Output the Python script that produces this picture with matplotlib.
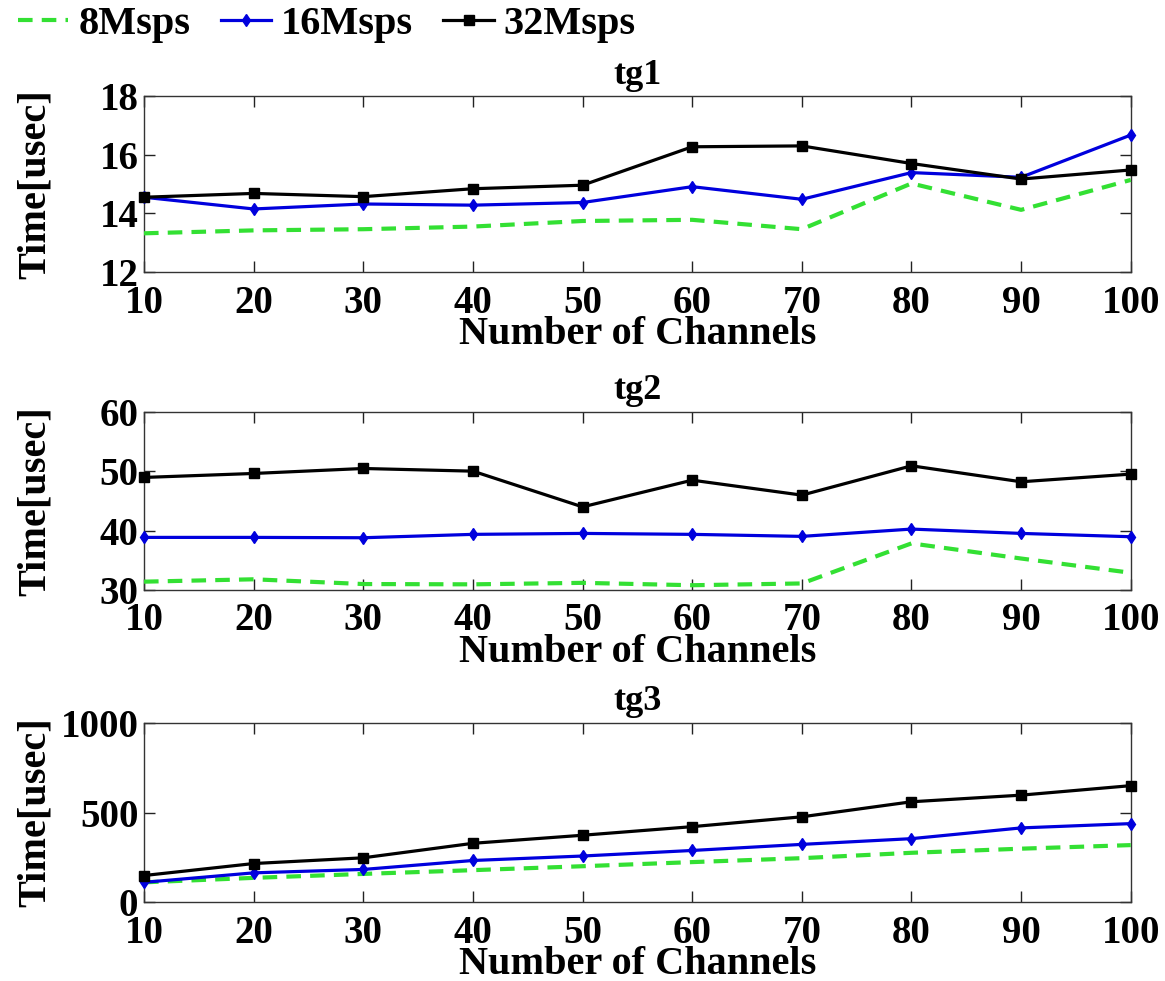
import numpy as np
import matplotlib.pyplot as plt

channels = [10, 20, 30, 40, 50, 60, 70, 80, 90, 100]

# tg1
tg1_8 = [13.32, 13.42, 13.46, 13.55, 13.74, 13.78, 13.46, 15.02, 14.12, 15.14]
tg1_16 = [14.55, 14.15, 14.32, 14.28, 14.37, 14.91, 14.48, 15.39, 15.23, 16.67]
tg1_32 = [14.55, 14.68, 14.57, 14.84, 14.96, 16.27, 16.30, 15.70, 15.17, 15.48]

# tg2
tg2_8 = [31.4, 31.8, 31.0, 30.95, 31.2, 30.8, 31.1, 37.85, 35.3, 32.9]
tg2_16 = [38.86, 38.86, 38.8, 39.37, 39.53, 39.37, 39.03, 40.26, 39.53, 38.97]
tg2_32 = [48.96, 49.63, 50.47, 50.02, 44.0, 48.5, 45.98, 50.92, 48.23, 49.52]

# tg3
tg3_8 = [110, 135, 157, 178, 200, 223, 245, 275, 298, 318]
tg3_16 = [110, 163, 182, 232, 257, 288, 322, 354, 414, 438]
tg3_32 = [148, 215, 247, 328, 373, 421, 476, 560, 597, 650]

titles = ["tg1", "tg2", "tg3"]
ylims = [(12, 18), (30, 60), (0, 1000)]
yticks = [[12, 14, 16, 18], [30, 40, 50, 60], [0, 500, 1000]]
series = [(tg1_8, tg1_16, tg1_32), (tg2_8, tg2_16, tg2_32), (tg3_8, tg3_16, tg3_32)]

plt.rcParams['font.family'] = ['Liberation Serif', 'DejaVu Serif']
plt.rcParams['font.weight'] = 'bold'

fig = plt.figure(figsize=(11.65, 9.81), dpi=100)

# axes boxes (left, bottom, width, height) in figure fractions
boxes = [(0.1236, 0.7227, 0.847, 0.1794),
         (0.1236, 0.3986, 0.847, 0.1815),
         (0.1236, 0.0805, 0.847, 0.1825)]

for i in range(3):
    ax = fig.add_axes(boxes[i])
    s8, s16, s32 = series[i]
    ax.plot(channels, s8, color='#33e033', linestyle='--', linewidth=3.0,
            dashes=(3.5, 2.2), label='8Msps', clip_on=False, zorder=3)
    ax.plot(channels, s16, color='#0000dd', linewidth=2.3, marker='d', markersize=6.5,
            label='16Msps', clip_on=False, zorder=4)
    ax.plot(channels, s32, color='black', linewidth=2.3, marker='s', markersize=7,
            label='32Msps', clip_on=False, zorder=5)
    ax.set_xlim(10, 100)
    ax.set_ylim(*ylims[i])
    ax.set_xticks(channels)
    ax.set_yticks(yticks[i])
    ax.tick_params(direction='in', top=True, right=True, length=8, width=1,
                   labelsize=28, pad=4, color='#222222')
    ax.tick_params(axis='x', pad=9)
    for sp in ax.spines.values():
        sp.set_linewidth(1)
        sp.set_color('#333333')
    ax.set_title(titles[i], fontsize=26, fontweight='bold', pad=9)
    ax.set_xlabel("Number of Channels", fontsize=29, fontweight='bold', labelpad=-4)
    ax.set_ylabel("Time[usec]", fontsize=29, fontweight='bold')
    ax.yaxis.set_label_coords(-0.091, 0.5)
    if i == 0:
        handles, labels = ax.get_legend_handles_labels()

fig.legend(handles, labels, loc='upper left', bbox_to_anchor=(0.0155, 0.994), ncol=3,
           frameon=False, fontsize=29, handlelength=1.25, handletextpad=0.25,
           columnspacing=0.75, borderaxespad=0.0, borderpad=0.0)

fig.savefig("out.png", dpi=100)
